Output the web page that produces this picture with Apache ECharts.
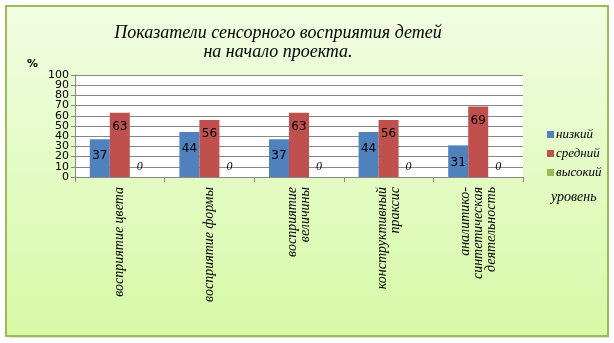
<!DOCTYPE html>
<html><head><meta charset="utf-8">
<script src="https://cdn.jsdelivr.net/npm/echarts@6/dist/echarts.min.js"></script>
<style>html,body{margin:0;padding:0;background:#fff;}#c{width:614px;height:343px;}</style>
</head><body><div id="c"></div>
<script>
const categories = ['восприятие цвета','восприятие формы','восприятие\nвеличины','конструктивный\nпраксис','аналитико-\nсинтетическая\nдеятельность'];
const seriesNames = ['низкий','средний','высокий'];
const low = [37,44,37,44,31];
const mid = [63,56,63,56,69];
const high = [0,0,0,0,0];
const yTicks = [0,10,20,30,40,50,60,70,80,90,100];
const colors = ['#4f81bd','#c0504d','#9bbb59'];
const fontItalic = '"Liberation Serif", serif';

const chart = echarts.init(document.getElementById('c'));
const mkLabel = (pos, dist, italic) => ({show:true, position:pos, distance:dist, color:'#000', fontSize:12,
  fontFamily:italic?fontItalic:'"DejaVu Sans", sans-serif', fontStyle:italic?'italic':'normal'});
const yLabelStyle = {color:'#000', fontSize:11, fontFamily:'"DejaVu Sans", sans-serif', margin:6, hideOverlap:false};
const edgeTicks = [yTicks[1], yTicks[yTicks.length-2]];
chart.setOption({
  animation:false,
  graphic:[
    {type:'rect', z:-10, shape:{x:9,y:9,width:600,height:329}, style:{fill:'rgba(0,0,0,0.12)'}},
    {type:'rect', z:-9, shape:{x:6,y:6,width:602,height:330},
     style:{fill:new echarts.graphic.LinearGradient(0,0,0,1,[{offset:0,color:'#f1fde2'},{offset:1,color:'#d6f9a6'}]), stroke:'#9bbb59', lineWidth:2}},
    {type:'rect', z:-8, shape:{x:75,y:75,width:448,height:102}, style:{fill:'#fff'}},
    {type:'text', left:27, top:59, style:{text:'%', font:'bold 11px "DejaVu Sans", sans-serif', fill:'#000'}},
    {type:'text', left:551, top:190, style:{text:'уровень', font:'italic 14px '+fontItalic, fill:'#000'}}
  ],
  title:{text:'Показатели сенсорного восприятия детей\nна начало проекта.', left:273, top:19, textAlign:'center',
    textStyle:{fontFamily:fontItalic, fontStyle:'italic', fontWeight:'normal', fontSize:18, lineHeight:19, color:'#000'}},
  legend:{orient:'vertical', left:542, top:123, itemWidth:7, itemHeight:7, itemGap:6, icon:'rect',
    textStyle:{fontFamily:fontItalic, fontStyle:'italic', fontSize:13, color:'#000', padding:[0,0,0,-3]},
    data:seriesNames},
  grid:{left:75, right:91, top:75, bottom:166, containLabel:false},
  xAxis:{type:'category', data:categories,
    axisLine:{lineStyle:{color:'#888'}}, axisTick:{show:true, length:5, lineStyle:{color:'#888'}},
    axisLabel:{rotate:90, interval:0, color:'#000', fontFamily:fontItalic, fontStyle:'italic', fontSize:14, lineHeight:13, margin:10}},
  yAxis:[
    {type:'value', min:0, max:100, interval:10,
      axisLine:{show:true, lineStyle:{color:'#888'}}, axisTick:{show:true, length:4, lineStyle:{color:'#888'}},
      splitLine:{lineStyle:{color:'#888'}},
      axisLabel:Object.assign({showMinLabel:true, showMaxLabel:true,
        formatter:v=>(yTicks.includes(v) && !edgeTicks.includes(v))?String(v):''}, yLabelStyle)},
    {type:'value', position:'left', min:0, max:100, interval:10,
      axisLine:{show:false}, axisTick:{show:false}, splitLine:{show:false},
      axisLabel:Object.assign({showMinLabel:false, showMaxLabel:false,
        formatter:v=>edgeTicks.includes(v)?String(v):''}, yLabelStyle)}
  ],
  series:[
    {name:seriesNames[0], type:'bar', data:low, barGap:'0%', barCategoryGap:'33%', itemStyle:{color:colors[0]}, label:mkLabel('insideTop',11,false)},
    {name:seriesNames[1], type:'bar', data:mid, itemStyle:{color:colors[1]}, label:mkLabel('insideTop',8,false)},
    {name:seriesNames[2], type:'bar', data:high, itemStyle:{color:colors[2]}, label:mkLabel('top',4,true)}
  ]
});
</script></body></html>
